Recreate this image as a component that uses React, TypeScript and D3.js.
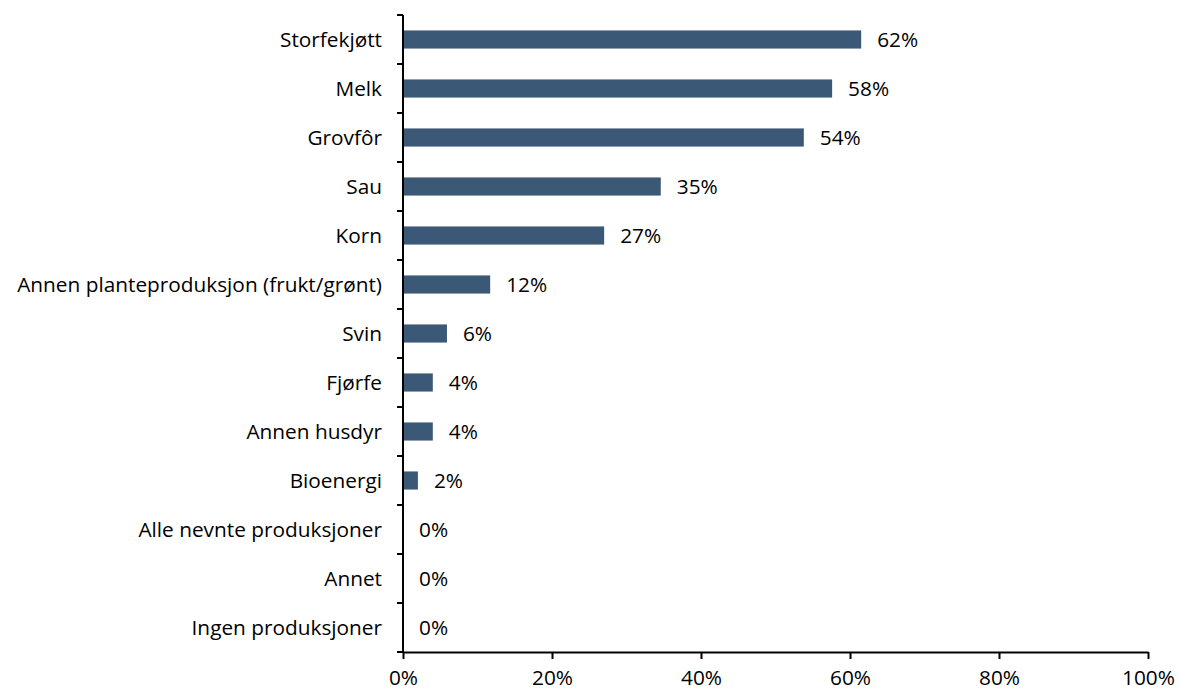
import * as d3 from 'd3';
import { useEffect, useRef } from 'react';

const categories = [
  'Storfekjøtt',
  'Melk',
  'Grovfôr',
  'Sau',
  'Korn',
  'Annen planteproduksjon (frukt/grønt)',
  'Svin',
  'Fjørfe',
  'Annen husdyr',
  'Bioenergi',
  'Alle nevnte produksjoner',
  'Annet',
  'Ingen produksjoner',
];
const values = [0.615, 0.576, 0.538, 0.346, 0.27, 0.117, 0.059, 0.04, 0.04, 0.02, 0, 0, 0];
const valueLabels = ['62%', '58%', '54%', '35%', '27%', '12%', '6%', '4%', '4%', '2%', '0%', '0%', '0%'];
const xTicks = [0, 0.2, 0.4, 0.6, 0.8, 1];

const W = 1180;
const H = 693;

export default function App() {
  const svgRef = useRef<SVGSVGElement>(null);

  useEffect(() => {
    const svg = d3.select(svgRef.current);
    svg.selectAll('*').remove();

    const margin = { top: 15, right: 32, bottom: 41, left: 403 };
    const width = W - margin.left - margin.right;
    const height = H - margin.top - margin.bottom;
    const font = '"Open Sans", sans-serif';
    const fs = 20.8;

    const x = d3.scaleLinear().domain([0, 1]).range([0, width]);
    const y = d3.scaleBand().domain(categories).range([0, height]).paddingInner(0.63).paddingOuter(0.315);

    const g = svg.append('g').attr('transform', `translate(${margin.left},${margin.top})`);

    g.selectAll('rect.bar')
      .data(categories)
      .join('rect')
      .attr('class', 'bar')
      .attr('x', 0)
      .attr('y', d => y(d)!)
      .attr('width', (d, i) => x(values[i]))
      .attr('height', y.bandwidth())
      .attr('fill', '#3B5876');

    g.selectAll('text.val')
      .data(categories)
      .join('text')
      .attr('class', 'val')
      .attr('x', (d, i) => x(values[i]) + 16)
      .attr('y', d => y(d)! + y.bandwidth() / 2)
      .attr('dy', '0.36em')
      .attr('font-family', font)
      .attr('font-size', fs)
      .attr('fill', '#000')
      .text((d, i) => valueLabels[i]);

    // category axis: ticks sit between categories
    const step = height / categories.length;
    const yAxis = g.append('g');
    yAxis.append('line').attr('x1', 0).attr('x2', 0).attr('y1', 0).attr('y2', height).attr('stroke', '#000').attr('stroke-width', 2);
    yAxis.selectAll('line.tick')
      .data(d3.range(categories.length + 1))
      .join('line')
      .attr('class', 'tick')
      .attr('x1', -6).attr('x2', 0)
      .attr('y1', i => i * step).attr('y2', i => i * step)
      .attr('stroke', '#000').attr('stroke-width', 2);
    yAxis.selectAll('text')
      .data(categories)
      .join('text')
      .attr('x', -21)
      .attr('y', d => y(d)! + y.bandwidth() / 2)
      .attr('dy', '0.36em')
      .attr('text-anchor', 'end')
      .attr('font-family', font)
      .attr('font-size', fs)
      .attr('fill', '#000')
      .text(d => d);

    const xAxis = d3.axisBottom(x).tickValues(xTicks).tickFormat(d3.format('.0%')).tickSize(7).tickSizeOuter(0).tickPadding(11);
    const xg = g.append('g').attr('transform', `translate(0,${height})`).call(xAxis);
    xg.select('.domain').attr('stroke', '#000').attr('stroke-width', 2);
    xg.selectAll('.tick line').attr('stroke', '#000').attr('stroke-width', 2);
    xg.selectAll('.tick text').attr('font-family', font).attr('font-size', fs).attr('fill', '#000');
  }, []);

  return (
    <svg ref={svgRef} width={W} height={H} style={{ position: 'absolute', left: 0, top: 0, background: '#fff' }} />
  );
}
